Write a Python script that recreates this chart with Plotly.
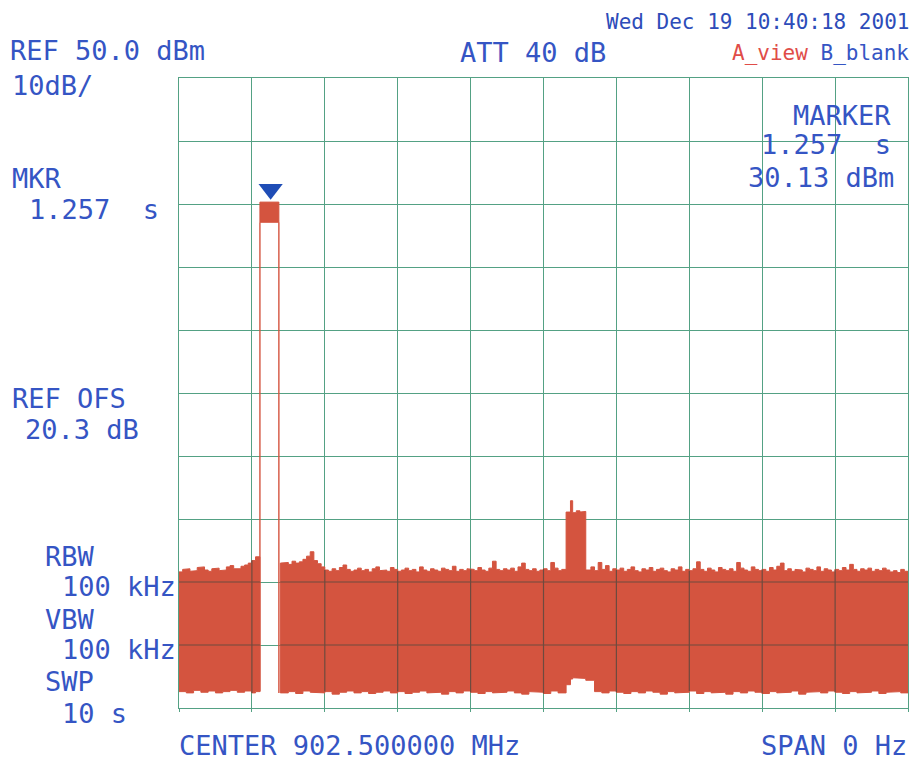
import math
import plotly.graph_objects as go

# ---- instrument trace (zero span, 10 s sweep) ----
# noise floor, left of the pulse: upper edge (s, dBm)
left_hi_t = [0.00, 0.05, 0.10, 0.15, 0.20, 0.25, 0.30, 0.35, 0.40, 0.45, 0.50, 0.55,
             0.60, 0.65, 0.70, 0.75, 0.80, 0.85, 0.90, 0.95, 1.00, 1.05, 1.11]
left_hi = [-28.4, -28.0, -27.9, -28.3, -28.2, -27.7, -27.6, -28.1, -28.3, -27.9, -27.8, -28.2,
           -28.1, -27.6, -27.4, -27.9, -27.9, -27.5, -27.3, -27.0, -26.6, -26.0, -26.5]
# lower edge
left_lo_t = [0.0, 0.1, 0.2, 0.3, 0.4, 0.5, 0.6, 0.7, 0.8, 0.9, 1.0, 1.05, 1.11]
left_lo = [-47.4, -47.6, -47.2, -47.5, -47.3, -47.6, -47.4, -47.2, -47.5, -47.3, -47.6, -47.4, -47.4]

# noise floor, right of the pulse (includes the short burst near 5.4 s): upper edge
right_hi_t = [1.39, 1.45, 1.50, 1.55, 1.60, 1.65, 1.70, 1.75, 1.80, 1.85, 1.90, 1.95,
              2.00, 2.05, 2.10, 2.15, 2.20, 2.25, 2.30, 2.35, 2.40, 2.45,
              2.50, 2.55, 2.60, 2.65, 2.70, 2.75, 2.80, 2.85, 2.90, 2.95,
              3.00, 3.05, 3.10, 3.15, 3.20, 3.25, 3.30, 3.35, 3.40, 3.45,
              3.50, 3.55, 3.60, 3.65, 3.70, 3.75, 3.80, 3.85, 3.90, 3.95,
              4.00, 4.05, 4.10, 4.15, 4.20, 4.25, 4.30, 4.35, 4.40, 4.45,
              4.50, 4.55, 4.60, 4.65, 4.70, 4.75, 4.80, 4.85, 4.90, 4.95,
              5.00, 5.05, 5.10, 5.15, 5.20, 5.25,
              5.31, 5.37, 5.40, 5.45, 5.50, 5.55, 5.58,
              5.65, 5.70, 5.75, 5.80, 5.85, 5.90, 5.95,
              6.00, 6.05, 6.10, 6.15, 6.20, 6.25, 6.30, 6.35, 6.40, 6.45,
              6.50, 6.55, 6.60, 6.65, 6.70, 6.75, 6.80, 6.85, 6.90, 6.95,
              7.00, 7.05, 7.10, 7.15, 7.20, 7.25, 7.30, 7.35, 7.40, 7.45,
              7.50, 7.55, 7.60, 7.65, 7.70, 7.75, 7.80, 7.85, 7.90, 7.95,
              8.00, 8.05, 8.10, 8.15, 8.20, 8.25, 8.30, 8.35, 8.40, 8.45,
              8.50, 8.55, 8.60, 8.65, 8.70, 8.75, 8.80, 8.85, 8.90, 8.95,
              9.00, 9.05, 9.10, 9.15, 9.20, 9.25, 9.30, 9.35, 9.40, 9.45,
              9.50, 9.55, 9.60, 9.65, 9.70, 9.75, 9.80, 9.85, 9.90, 9.95,
              10.00]
right_hi = [-27.0, -26.9, -27.2, -26.7, -27.0, -26.8, -26.4, -25.9, -25.2, -26.6, -27.1, -27.6,
            -28.1, -28.3, -27.9, -28.2, -27.7, -27.3, -28.0, -28.3, -28.1, -27.8,
            -28.2, -28.0, -28.4, -27.9, -27.6, -28.2, -28.1, -28.3, -27.7, -28.0,
            -28.3, -28.1, -27.8, -28.2, -28.0, -28.4, -27.6, -28.1, -28.3, -27.9,
            -28.1, -28.3, -27.8, -28.0, -28.2, -27.5, -28.3, -28.0, -28.2, -27.9,
            -28.0, -28.2, -27.7, -28.1, -28.3, -27.8, -26.7, -28.0, -28.2, -27.9,
            -28.1, -27.8, -28.3, -27.6, -27.0, -28.0, -28.2, -27.9, -28.3, -28.1,
            -27.9, -28.2, -26.9, -27.8, -28.2, -28.0,
            -18.9, -17.1, -19.0, -18.7, -18.9, -18.8, -28.1,
            -27.6, -28.2, -26.9, -28.0, -27.4, -28.3, -27.9,
            -28.1, -27.8, -28.3, -28.0, -27.6, -28.2, -28.4, -27.9, -28.1, -27.7,
            -28.3, -28.0, -27.8, -28.2, -28.4, -27.9, -28.1, -27.6, -28.3, -28.0,
            -28.2, -27.9, -26.8, -28.0, -28.3, -27.8, -28.1, -28.4, -27.7, -28.0,
            -28.2, -27.9, -28.3, -26.9, -27.8, -28.1, -28.3, -27.6, -28.0, -28.2,
            -28.0, -28.3, -27.7, -28.1, -27.5, -27.0, -28.2, -27.9, -28.3, -28.0,
            -28.1, -28.4, -27.8, -28.0, -28.2, -27.6, -28.3, -27.9, -28.1, -28.4,
            -28.0, -28.2, -27.7, -28.1, -27.2, -28.0, -28.3, -27.9, -28.1, -27.8,
            -28.3, -28.0, -28.2, -27.8, -28.1, -28.4, -28.2, -28.5, -28.0, -28.3,
            -28.3]
# lower edge
right_lo_t = [1.39, 1.5, 1.6, 1.7, 1.8, 1.9, 2.0, 2.1, 2.2, 2.3, 2.4, 2.5, 2.6, 2.7, 2.8, 2.9,
              3.0, 3.1, 3.2, 3.3, 3.4, 3.5, 3.6, 3.7, 3.8, 3.9, 4.0, 4.1, 4.2, 4.3, 4.4, 4.5,
              4.6, 4.7, 4.8, 4.9, 5.0, 5.1, 5.2, 5.31, 5.37, 5.40, 5.5, 5.58, 5.7, 5.8, 5.9,
              6.0, 6.1, 6.2, 6.3, 6.4, 6.5, 6.6, 6.7, 6.8, 6.9, 7.0, 7.1, 7.2, 7.3, 7.4, 7.5,
              7.6, 7.7, 7.8, 7.9, 8.0, 8.1, 8.2, 8.3, 8.4, 8.5, 8.6, 8.7, 8.8, 8.9, 9.0, 9.1,
              9.2, 9.3, 9.4, 9.5, 9.6, 9.7, 9.8, 9.9, 10.0]
right_lo = [-47.6, -47.4, -47.7, -47.3, -47.5, -47.6, -47.4, -47.8, -47.5, -47.3, -47.6, -47.4, -47.7, -47.5, -47.3, -47.6,
            -47.4, -47.7, -47.5, -47.3, -47.6, -47.5, -47.8, -47.4, -47.6, -47.3, -47.5, -47.7, -47.4, -47.6, -47.5, -47.3,
            -47.6, -47.8, -47.4, -47.5, -47.7, -47.3, -47.6, -46.3, -45.4, -45.2, -45.3, -45.6, -47.4, -47.6, -47.3,
            -47.5, -47.7, -47.4, -47.6, -47.3, -47.5, -47.8, -47.4, -47.6, -47.5, -47.3, -47.7, -47.4, -47.6, -47.5, -47.8,
            -47.4, -47.6, -47.3, -47.5, -47.7, -47.4, -47.6, -47.5, -47.3, -47.8, -47.5, -47.4, -47.6, -47.3, -47.5, -47.7,
            -47.4, -47.6, -47.5, -47.3, -47.7, -47.5, -47.4, -47.6, -47.6]

# the RF pulse (s, dBm)
pulse_t = [1.11, 1.37]
pulse_hi = 30.3
pulse_lo = 27.1

# marker readout
mkr_t = 1.257
mkr_dbm = 30.13

# display scale
ref_level = 50.0
db_per_div = 10.0
sweep_s = 10.0

BLUE = "#3555c4"
DATE_BLUE = "#2d4cb9"
RED_TXT = "#e04c48"
TRACE_RED = "#d4543f"
GRID = "#54a184"
GRID_ON_TRACE = "#6e4a3e"
MKR_BLUE = "#1f4db6"
MONO = "DejaVu Sans Mono"

W, H = 914, 766
PX_L, PX_R, PX_T, PX_B = 179, 908, 78, 708


def px(x):
    return (x - PX_L) / (PX_R - PX_L)


def py(y):
    return (PX_B - y) / (PX_B - PX_T)


def steps(ts, vals):
    xs, ys = [], []
    for i in range(len(ts) - 1):
        xs += [ts[i], ts[i + 1]]
        ys += [vals[i], vals[i]]
    xs.append(ts[-1]); ys.append(vals[-1])
    return xs, ys


def band_polygon(hi_t, hi, lo_t, lo):
    """Closed outline of the stepped band between the lower and upper edges."""
    ux, uy = steps(hi_t, hi)
    lx, ly = steps(lo_t, lo)
    return ux + lx[::-1] + [ux[0]], uy + ly[::-1] + [uy[0]]


def value_at(ts, vals, t):
    v = vals[0]
    for ti, vi in zip(ts, vals):
        if ti <= t:
            v = vi
    return v


fig = go.Figure()

# noise band
for hi_t, hi, lo_t, lo in [(left_hi_t, left_hi, left_lo_t, left_lo),
                           (right_hi_t, right_hi, right_lo_t, right_lo)]:
    xs, ys = band_polygon(hi_t, hi, lo_t, lo)
    fig.add_trace(go.Scatter(x=xs, y=ys, mode="lines", fill="toself",
                             fillcolor=TRACE_RED, line=dict(color=TRACE_RED, width=1),
                             hoverinfo="skip", showlegend=False))

# pulse: rising/falling edges and the flat top
fig.add_trace(go.Scatter(
    x=[pulse_t[0], pulse_t[0], None, pulse_t[1], pulse_t[1]],
    y=[left_lo[-1], pulse_lo, None, pulse_lo, right_lo[0]],
    mode="lines", line=dict(color=TRACE_RED, width=1.4),
    hoverinfo="skip", showlegend=False))
fig.add_trace(go.Scatter(
    x=[pulse_t[0], pulse_t[1], pulse_t[1], pulse_t[0], pulse_t[0]],
    y=[pulse_hi, pulse_hi, pulse_lo, pulse_lo, pulse_hi],
    mode="lines", fill="toself", fillcolor=TRACE_RED,
    line=dict(color=TRACE_RED, width=1), hoverinfo="skip", showlegend=False))

# graticule lines where they cross the filled trace look darker
gx, gy = [], []
y_bottom = ref_level - 10 * db_per_div
for k in range(1, 10):
    lvl = y_bottom + k * db_per_div
    if min(min(left_hi), min(right_hi)) > lvl > max(max(left_lo), max(right_lo)):
        gx += [0, pulse_t[0], None, right_hi_t[0], sweep_s, None]
        gy += [lvl, lvl, None, lvl, lvl, None]
for k in range(1, 10):
    t = k * sweep_s / 10
    if t <= left_hi_t[-1]:
        hi, lo = value_at(left_hi_t, left_hi, t), value_at(left_lo_t, left_lo, t)
    elif t >= right_hi_t[0]:
        hi, lo = value_at(right_hi_t, right_hi, t), value_at(right_lo_t, right_lo, t)
    else:
        continue
    gx += [t, t, None]
    gy += [lo, hi, None]
fig.add_trace(go.Scatter(x=gx, y=gy, mode="lines",
                         line=dict(color=GRID_ON_TRACE, width=1.2),
                         hoverinfo="skip", showlegend=False))

# marker symbol, tip resting on the marker level
msize = 21
db_per_px = 10 * db_per_div / (PX_B - PX_T)
fig.add_trace(go.Scatter(
    x=[mkr_t], y=[mkr_dbm + (msize / 2 * math.sqrt(2) - 1) * db_per_px],
    mode="markers", marker=dict(symbol="triangle-down", size=msize, color=MKR_BLUE,
                                line=dict(width=0)),
    hoverinfo="skip", showlegend=False))

fig.update_xaxes(range=[0, sweep_s], dtick=sweep_s / 10, showticklabels=False,
                 showgrid=True, gridcolor=GRID, gridwidth=1, zeroline=False,
                 showline=True, linecolor=GRID, linewidth=1, mirror=True,
                 ticks="outside", ticklen=3, tickcolor=GRID)
fig.update_yaxes(range=[ref_level - 10 * db_per_div, ref_level], dtick=db_per_div,
                 showticklabels=False, showgrid=True, gridcolor=GRID, gridwidth=1,
                 zeroline=False, showline=True, linecolor=GRID, linewidth=1, mirror=True)

texts = [
    ("REF 50.0 dBm", 8, 51, "left", 27, BLUE),
    ("10dB/", 10, 86, "left", 27, BLUE),
    ("MKR", 10, 178, "left", 27, BLUE),
    ("1.257\u00a0\u00a0s", 27, 209, "left", 27, BLUE),
    ("REF OFS", 10, 398, "left", 27, BLUE),
    ("20.3 dB", 23, 429, "left", 27, BLUE),
    ("RBW", 43, 556, "left", 27, BLUE),
    ("100 kHz", 60, 586, "left", 27, BLUE),
    ("VBW", 43, 619, "left", 27, BLUE),
    ("100 kHz", 60, 649, "left", 27, BLUE),
    ("SWP", 43, 681, "left", 27, BLUE),
    ("10 s", 60, 713, "left", 27, BLUE),
    ("ATT 40 dB", 458, 53, "left", 27, BLUE),
    ("Wed Dec 19 10:40:18 2001", 911, 22, "right", 21, DATE_BLUE),
    (f"<span style='color:{RED_TXT}'>A_view</span> B_blank", 911, 53, "right", 21, BLUE),
    ("MARKER", 893, 115, "right", 27, BLUE),
    ("1.257\u00a0\u00a0s", 893, 145, "right", 27, BLUE),
    ("30.13 dBm", 896, 177, "right", 27, BLUE),
    ("CENTER 902.500000 MHz", 177, 745, "left", 27, BLUE),
    ("SPAN 0 Hz", 909, 745, "right", 27, BLUE),
]
for txt, x, y, anchor, size, color in texts:
    fig.add_annotation(text=txt, x=px(x), y=py(y), xref="paper", yref="paper",
                       xanchor=anchor, yanchor="middle", showarrow=False,
                       font=dict(family=MONO, size=size, color=color))

fig.update_layout(width=W, height=H, paper_bgcolor="white", plot_bgcolor="white",
                  margin=dict(l=PX_L, r=W - PX_R, t=PX_T, b=H - PX_B),
                  showlegend=False)

fig.write_html("out.html")
